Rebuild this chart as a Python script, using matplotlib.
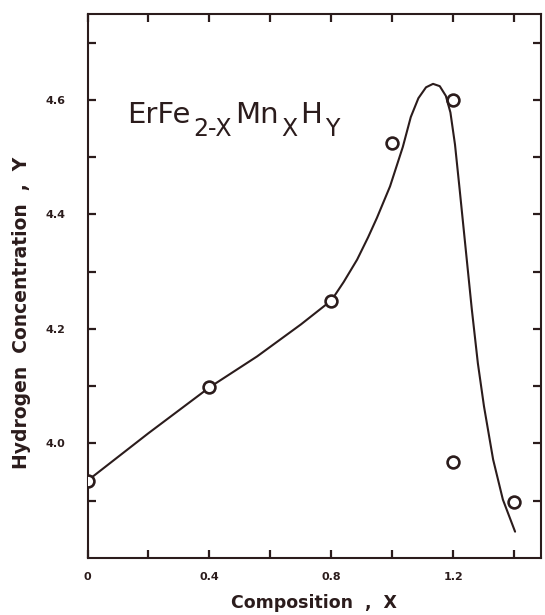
import matplotlib
matplotlib.use("Agg")
import matplotlib.pyplot as plt
from matplotlib.ticker import FixedLocator, NullFormatter

# measured points
comp_x = [0.0, 0.4, 0.8, 1.0, 1.2, 1.2, 1.4]
conc_y = [3.935, 4.098, 4.248, 4.525, 4.600, 3.967, 3.898]

# hand-drawn guide curve
curve_x = [0.0, 0.2, 0.4, 0.556, 0.7, 0.8, 0.84, 0.884, 0.92, 0.949, 0.992, 1.034,
           1.06, 1.085, 1.11, 1.133, 1.155, 1.175, 1.19, 1.205, 1.22, 1.24,
           1.26, 1.28, 1.30, 1.33, 1.362, 1.402]
curve_y = [3.935, 4.018, 4.098, 4.152, 4.208, 4.25, 4.282, 4.321, 4.36, 4.394, 4.449, 4.518,
           4.570, 4.603, 4.622, 4.628, 4.624, 4.607, 4.578, 4.522, 4.445, 4.34,
           4.235, 4.14, 4.065, 3.972, 3.902, 3.846]

x_major = [0.0, 0.4, 0.8, 1.2]
x_major_labels = ["0", "0.4", "0.8", "1.2"]
x_minor = [0.2, 0.6, 1.0, 1.4]
y_major = [4.0, 4.2, 4.4, 4.6]
y_major_labels = ["4.0", "4.2", "4.4", "4.6"]
y_minor = [3.9, 4.1, 4.3, 4.5, 4.7]

# formula pieces: (text, is_subscript)
formula = [("ErFe", False), ("2-X", True), ("Mn", False), ("X", True), ("H", False), ("Y", True)]

ink = "#2b1c1c"
W, H = 545, 615

fig = plt.figure(figsize=(W / 100, H / 100), dpi=100)
ax = fig.add_axes([87.5 / W, 1 - 558 / H, (541 - 87.5) / W, (558 - 14) / H])

ax.plot(curve_x, curve_y, color=ink, lw=1.5, solid_joinstyle="round", solid_capstyle="round")
ax.plot(comp_x, conc_y, linestyle="none", marker="o", markersize=8.5,
        markerfacecolor="white", markeredgecolor=ink, markeredgewidth=1.9, zorder=3)

ax.set_xlim(0, 1.487)
ax.set_ylim(3.80, 4.75)

ax.xaxis.set_major_locator(FixedLocator(x_major))
ax.xaxis.set_minor_locator(FixedLocator(x_minor))
ax.set_xticklabels(x_major_labels)
ax.yaxis.set_major_locator(FixedLocator(y_major))
ax.yaxis.set_minor_locator(FixedLocator(y_minor))
ax.set_yticklabels(y_major_labels)
ax.xaxis.set_minor_formatter(NullFormatter())
ax.yaxis.set_minor_formatter(NullFormatter())

for which in ("major", "minor"):
    ax.tick_params(axis="both", which=which, direction="in", length=6, width=1.6,
                   color=ink, top=True, right=True)
ax.tick_params(axis="y", which="major", pad=16, labelsize=8, labelcolor=ink)
ax.tick_params(axis="x", which="major", pad=10, labelsize=8, labelcolor=ink)
for lab in ax.get_xticklabels() + ax.get_yticklabels():
    lab.set_fontweight("heavy")

for sp in ax.spines.values():
    sp.set_linewidth(1.5)
    sp.set_color(ink)

ax.set_xlabel("Composition  ,  X", fontsize=12.5, fontweight="heavy", color=ink, labelpad=9)
ax.set_ylabel("Hydrogen  Concentration  ,  Y", fontsize=13.5, fontweight="heavy", color=ink)
ax.yaxis.set_label_coords(-0.125, 0.45)

# formula placed piece by piece, each following the previous one's extent
fig.canvas.draw()
renderer = fig.canvas.get_renderer()
cur_px = 127.0
base_y = 123
gap = 3.0
for txt, sub in formula:
    if sub:
        t = fig.text(cur_px / W, 1 - (base_y + 13) / H, txt, fontsize=17, color=ink,
                     ha="left", va="baseline")
    else:
        t = fig.text(cur_px / W, 1 - base_y / H, txt, fontsize=21, color=ink,
                     ha="left", va="baseline")
    bb = t.get_window_extent(renderer=renderer)
    cur_px = bb.x1 + gap

fig.savefig("out.png", dpi=100, facecolor="white")
